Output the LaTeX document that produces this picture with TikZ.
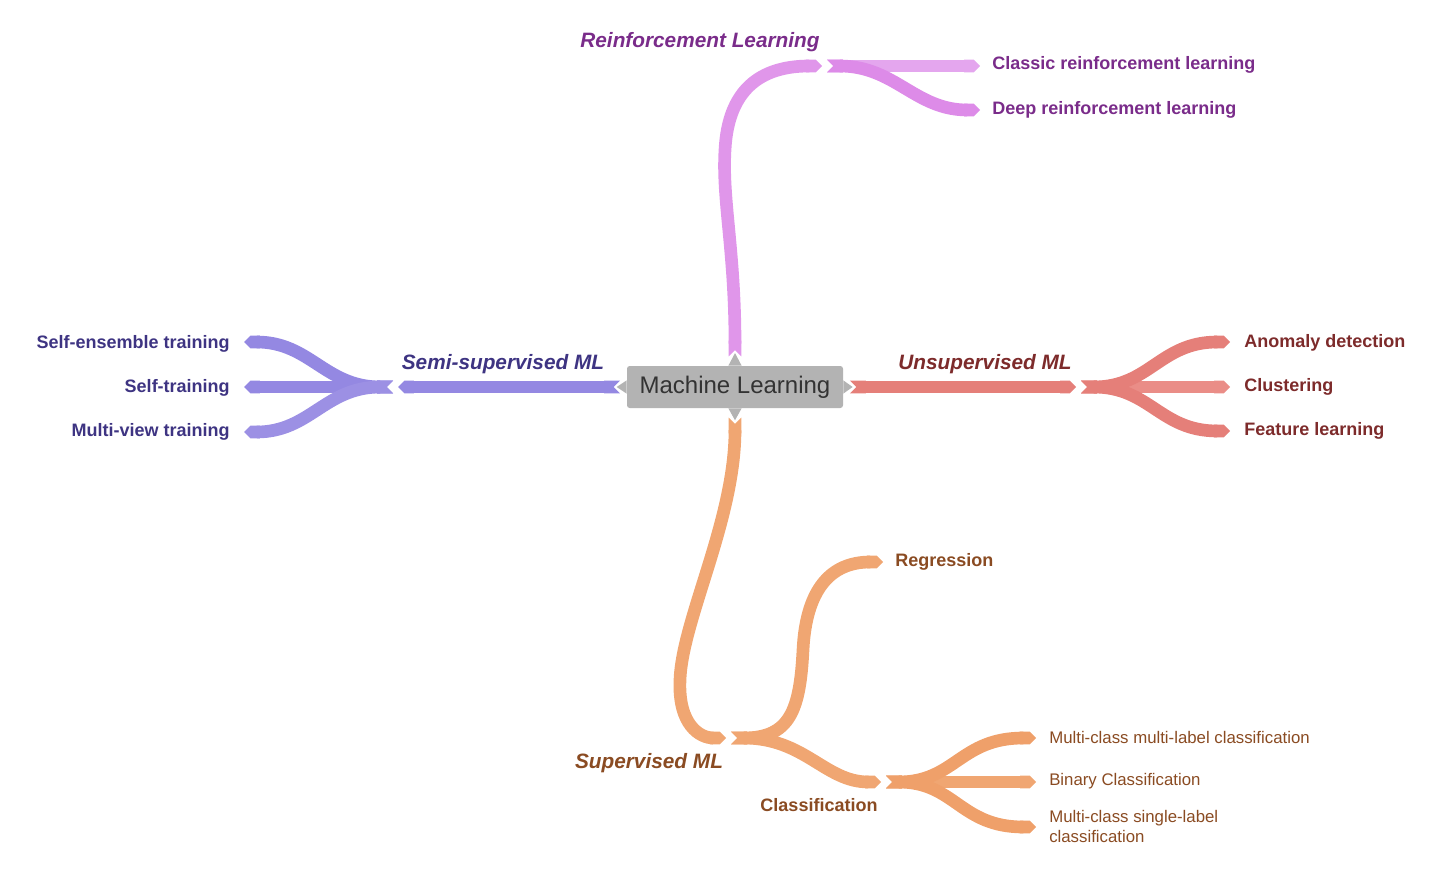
\documentclass[tikz,border=0pt]{standalone}
\usepackage{fontspec}
\setmainfont{Liberation Sans}
\usetikzlibrary{arrows.meta}
\definecolor{mlgray}{HTML}{B3B3B3}
\definecolor{mltext}{HTML}{333333}
\definecolor{rlcol}{HTML}{E096EA}
\definecolor{rlcolb}{HTML}{E4A6EE}
\definecolor{rlcolc}{HTML}{DD8BE8}
\definecolor{rltext}{HTML}{7A2C8A}
\definecolor{smcol}{HTML}{9488E2}
\definecolor{smcolb}{HTML}{9C90E4}
\definecolor{smtext}{HTML}{3E3482}
\definecolor{umcol}{HTML}{E57F79}
\definecolor{umcolb}{HTML}{EA8D87}
\definecolor{umtext}{HTML}{7D2B2B}
\definecolor{spcol}{HTML}{F0A672}
\definecolor{spcolb}{HTML}{EFA06A}
\definecolor{sptext}{HTML}{8A4B22}
\begin{document}
\begin{tikzpicture}[x=0.75pt,y=-0.75pt]
       \tikzstyle{ribbon}=[line width=9.5pt, {Triangle Cap[reversed]}-{Triangle Cap}]
       \tikzstyle{mlnode}=[fill=mlgray, rounded corners=2pt, minimum width=162pt, minimum height=31.5pt, inner sep=0, text=mltext, font=\fontsize{18}{22}\selectfont]
       \tikzstyle{branchlabel}=[inner sep=0, font=\fontsize{15.6}{18}\selectfont\bfseries\itshape]
       \tikzstyle{leaflabel}=[inner sep=0, font=\fontsize{13.5}{16}\selectfont\bfseries]
       \tikzstyle{thinlabel}=[inner sep=0, align=left, font=\fontsize{12.6}{15}\selectfont]
       \useasboundingbox (0,0) rectangle (1450,895);
       % centre
       \node[mlnode] (ml) at (735,387) {Machine Learning};
       \fill[mlgray] ([xshift=-5pt]ml.north) -- ([yshift=9.5pt]ml.north) -- ([xshift=5pt]ml.north) -- cycle;
       \fill[mlgray] ([xshift=-5pt]ml.south) -- ([yshift=-9pt]ml.south) -- ([xshift=5pt]ml.south) -- cycle;
       \fill[mlgray] ([yshift=5pt]ml.west) -- ([xshift=-7.5pt]ml.west) -- ([yshift=-5pt]ml.west) -- cycle;
       \fill[mlgray] ([yshift=5pt]ml.east) -- ([xshift=7pt]ml.east) -- ([yshift=-5pt]ml.east) -- cycle;
       \coordinate (rlstart) at ([yshift=7pt]ml.north);
       \coordinate (spstart) at ([yshift=-7pt]ml.south);
       \coordinate (smstart) at ([xshift=-5pt]ml.west);
       \coordinate (umstart) at ([xshift=5pt]ml.east);
       % reinforcement
       \coordinate (rl) at (822,66);
       \coordinate (rlk) at (827,66);
       \draw[ribbon, rlcol] (rlstart) .. controls (735,250) and (722,200) .. (725,150) .. controls (728,90) and (760,66) .. (rl);
       \draw[ribbon, rlcolb] (rlk) -- (980,66) coordinate (crl);
       \draw[ribbon, rlcolc] (rlk) .. controls (895,66) and (915,110) .. (980,110) coordinate (drl);
       \node[branchlabel, text=rltext] (rltitle) at (700,42) {Reinforcement Learning};
       \node[leaflabel, text=rltext, anchor=west] (crltext) at (992,65) {Classic reinforcement learning};
       \node[leaflabel, text=rltext, anchor=west] (drltext) at (992,110) {Deep reinforcement learning};
       % semi-supervised
       \coordinate (sm) at (398,387);
       \coordinate (smk) at (393,387);
       \draw[ribbon, smcol] (smstart) -- (sm);
       \draw[ribbon, smcol] (smk) -- (244,387) coordinate (sst);
       \draw[ribbon, smcol] (smk) .. controls (325,387) and (310,342) .. (244,342) coordinate (set);
       \draw[ribbon, smcolb] (smk) .. controls (325,387) and (310,432) .. (244,432) coordinate (mvt);
       \node[branchlabel, text=smtext] (smtitle) at (503,364) {Semi-supervised ML};
       \node[leaflabel, text=smtext, anchor=east] (settext) at (230,344) {Self-ensemble training};
       \node[leaflabel, text=smtext, anchor=east] (ssttext) at (230,388) {Self-training};
       \node[leaflabel, text=smtext, anchor=east] (mvttext) at (230,432) {Multi-view training};
       % unsupervised
       \coordinate (um) at (1076,387);
       \coordinate (umk) at (1081,387);
       \draw[ribbon, umcol] (umstart) -- (um);
       \draw[ribbon, umcolb] (umk) -- (1230,387) coordinate (clu);
       \draw[ribbon, umcol] (umk) .. controls (1150,387) and (1160,342) .. (1230,342) coordinate (ano);
       \draw[ribbon, umcol] (umk) .. controls (1150,387) and (1160,431) .. (1230,431) coordinate (fea);
       \node[branchlabel, text=umtext] (umtitle) at (985,364) {Unsupervised ML};
       \node[leaflabel, text=umtext, anchor=west] (anotext) at (1244,343) {Anomaly detection};
       \node[leaflabel, text=umtext, anchor=west] (clutext) at (1244,387) {Clustering};
       \node[leaflabel, text=umtext, anchor=west] (featext) at (1244,431) {Feature learning};
       % supervised
       \coordinate (sp) at (726,738);
       \coordinate (spk) at (731,738);
       \draw[ribbon, spcol] (spstart) .. controls (735,520) and (682,620) .. (680,680) .. controls (678,725) and (700,738) .. (sp);
       \draw[ribbon, spcol] (spk) .. controls (790,738) and (800,710) .. (803,650) .. controls (806,590) and (830,562) .. (883,562) coordinate (reg);
       \coordinate (cl) at (881,782);
       \coordinate (clk) at (886,782);
       \draw[ribbon, spcol] (spk) .. controls (805,738) and (825,782) .. (cl);
       \draw[ribbon, spcol] (clk) -- (1036,782) coordinate (bin);
       \draw[ribbon, spcolb] (clk) .. controls (955,782) and (960,738) .. (1036,738) coordinate (mml);
       \draw[ribbon, spcolb] (clk) .. controls (955,782) and (960,827) .. (1036,827) coordinate (msl);
       \node[branchlabel, text=sptext] (sptitle) at (649,763) {Supervised ML};
       \node[leaflabel, text=sptext, anchor=west] (regtext) at (895,562) {Regression};
       \node[leaflabel, text=sptext] (cltext) at (819,805) {Classification};
       \node[thinlabel, text=sptext, anchor=west] (mmltext) at (1049,737) {Multi-class multi-label classification};
       \node[thinlabel, text=sptext, anchor=west] (bintext) at (1049,781) {Binary Classification};
       \node[thinlabel, text=sptext, anchor=west] (msltext) at (1049,826) {Multi-class single-label\\classification};
\end{tikzpicture}
\end{document}
